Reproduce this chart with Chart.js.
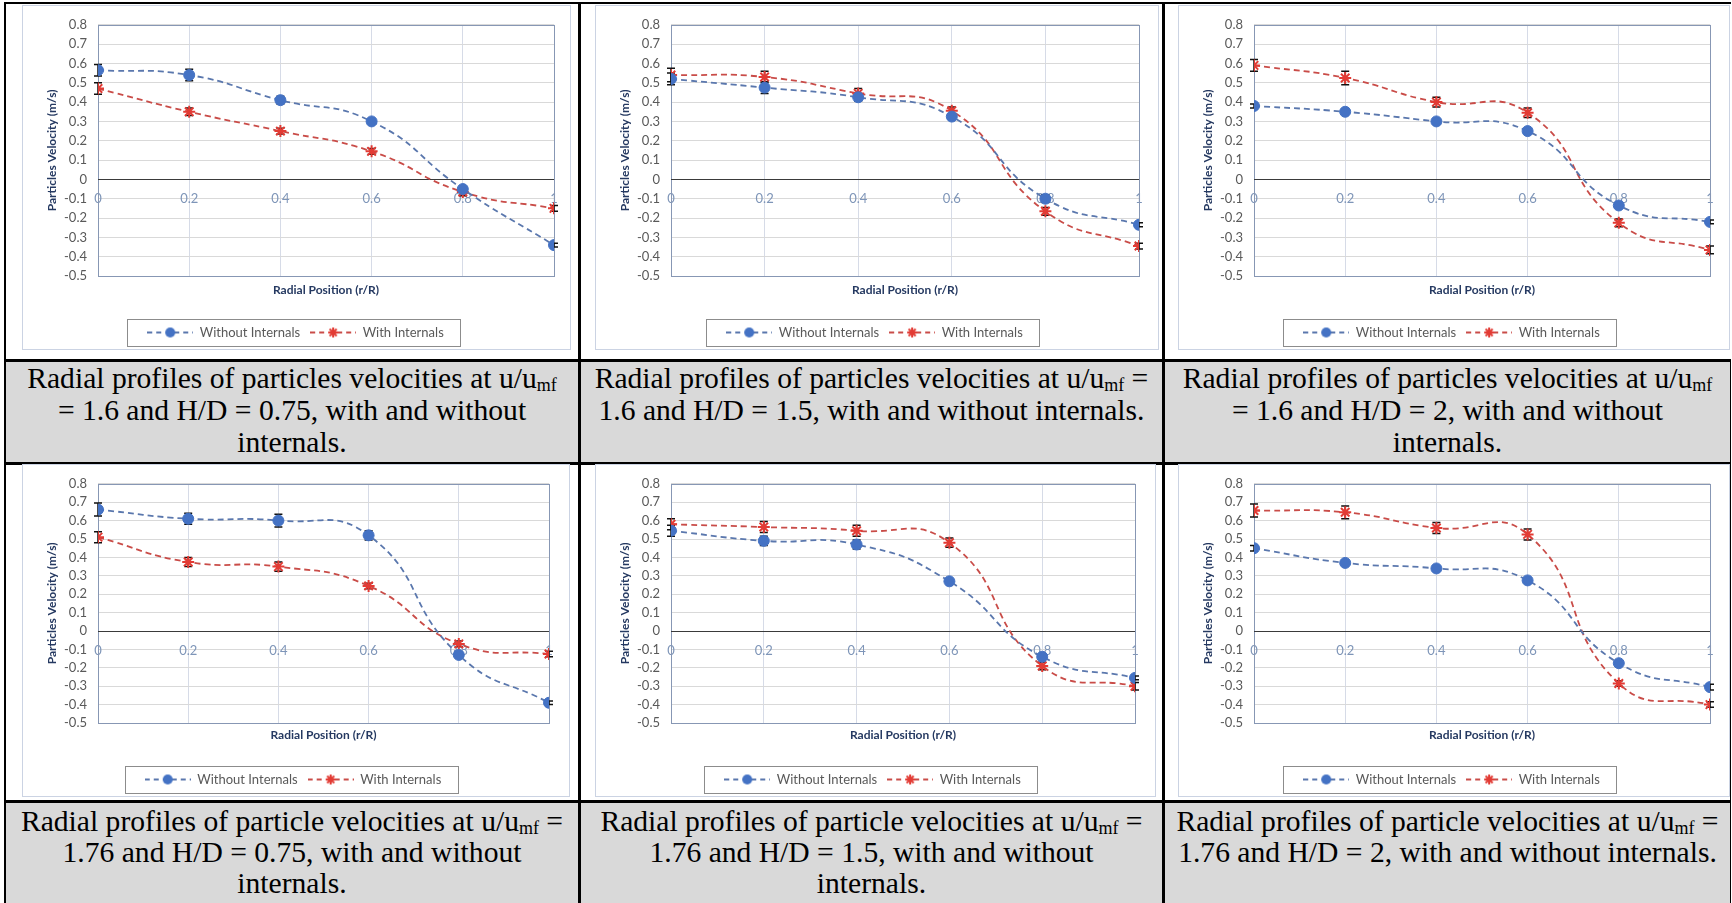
<!DOCTYPE html>
<html>
<head>
<meta charset="utf-8">
<script src="https://cdn.jsdelivr.net/npm/chart.js@4.4.1/dist/chart.umd.min.js"></script>
<style>
body{margin:0;background:#fff;width:1732px;height:903px;overflow:hidden;position:relative;font-family:'Liberation Serif','Times New Roman',serif}
.rule{position:absolute;background:#000}
.cap{position:absolute;background:#d9d9d9;text-align:center;font-size:29.6px;line-height:32px;color:#000;box-sizing:border-box}
.cap.low{line-height:31px;padding-top:3px}
.cap sub{font-size:18px;line-height:0;vertical-align:baseline;position:relative;top:3px}
.img{position:absolute;border:1px solid #cbd3e3;box-sizing:border-box;background:#fff}
.img canvas{position:absolute;left:0;top:0}
</style>
</head>
<body>
<div id="page"></div>
<script>
// ---- data ----
const radialPos = [0, 0.2, 0.4, 0.6, 0.8, 1];
const xTickLabels = ['0', '0.2', '0.4', '0.6', '0.8', '1'];
const seriesNames = ['Without Internals', 'With Internals'];
const yTitle = 'Particles Velocity (m/s)';
const xTitle = 'Radial Position (r/R)';

// u/umf = 1.6
const without_16_075 = [0.565, 0.54, 0.41, 0.30, -0.05, -0.34];
const with_16_075    = [0.47, 0.35, 0.25, 0.145, -0.065, -0.15];
const without_16_15  = [0.52, 0.475, 0.425, 0.325, -0.10, -0.235];
const with_16_15     = [0.54, 0.53, 0.445, 0.355, -0.165, -0.345];
const without_16_2   = [0.38, 0.35, 0.30, 0.25, -0.135, -0.22];
const with_16_2      = [0.59, 0.525, 0.40, 0.345, -0.225, -0.365];
// u/umf = 1.76
const without_176_075 = [0.66, 0.61, 0.60, 0.52, -0.13, -0.39];
const with_176_075    = [0.51, 0.375, 0.35, 0.245, -0.07, -0.125];
const without_176_15  = [0.545, 0.49, 0.47, 0.27, -0.14, -0.255];
const with_176_15     = [0.58, 0.565, 0.545, 0.48, -0.19, -0.30];
const without_176_2   = [0.45, 0.37, 0.34, 0.275, -0.175, -0.305];
const with_176_2      = [0.655, 0.645, 0.56, 0.525, -0.285, -0.40];

// error bars (+/-)
const errWithout_16_075 = [0.03, 0.03, 0.02, 0.01, 0.01, 0.01];
const errWith_16_075    = [0.03, 0.02, 0.015, 0.015, 0.02, 0.015];
const errWithout_16_15  = [0.03, 0.03, 0.02, 0.015, 0.02, 0.01];
const errWith_16_15     = [0.035, 0.03, 0.025, 0.02, 0.02, 0.015];
const errWithout_16_2   = [0.01, 0.01, 0.01, 0.01, 0.01, 0.01];
const errWith_16_2      = [0.03, 0.035, 0.025, 0.025, 0.02, 0.02];
const errWithout_176_075 = [0.035, 0.03, 0.035, 0.025, 0.015, 0.01];
const errWith_176_075    = [0.03, 0.025, 0.025, 0.015, 0.015, 0.015];
const errWithout_176_15  = [0.03, 0.025, 0.025, 0.01, 0.01, 0.01];
const errWith_176_15     = [0.03, 0.03, 0.03, 0.025, 0.02, 0.02];
const errWithout_176_2   = [0.015, 0.01, 0.01, 0.01, 0.01, 0.015];
const errWith_176_2      = [0.035, 0.035, 0.03, 0.03, 0.015, 0.015];

const captions = [
  ['Radial profiles of particles velocities at u/u<sub>mf</sub>', '= 1.6 and H/D = 0.75, with and without', 'internals.'],
  ['Radial profiles of particles velocities at u/u<sub>mf</sub> =', '1.6 and H/D = 1.5, with and without internals.'],
  ['Radial profiles of particles velocities at u/u<sub>mf</sub>', '= 1.6 and H/D = 2, with and without', 'internals.'],
  ['Radial profiles of particle velocities at u/u<sub>mf</sub> =', '1.76 and H/D = 0.75, with and without', 'internals.'],
  ['Radial profiles of particle velocities at u/u<sub>mf</sub> =', '1.76 and H/D = 1.5, with and without', 'internals.'],
  ['Radial profiles of particle velocities at u/u<sub>mf</sub> =', '1.76 and H/D = 2, with and without internals.']
];

const panels = [
  [without_16_075, with_16_075, errWithout_16_075, errWith_16_075],
  [without_16_15, with_16_15, errWithout_16_15, errWith_16_15],
  [without_16_2, with_16_2, errWithout_16_2, errWith_16_2],
  [without_176_075, with_176_075, errWithout_176_075, errWith_176_075],
  [without_176_15, with_176_15, errWithout_176_15, errWith_176_15],
  [without_176_2, with_176_2, errWithout_176_2, errWith_176_2]
];

// ---- page layout (table) ----
const boxes = [
  {left: 22, top: 5, w: 549, h: 345, padR: 16, titlePad: 19},
  {left: 595, top: 5, w: 564, h: 345, padR: 19, titlePad: 19},
  {left: 1178, top: 5, w: 552, h: 345, padR: 19, titlePad: 19},
  {left: 22, top: 464, w: 548, h: 333, padR: 20, titlePad: 21},
  {left: 595, top: 464, w: 561, h: 333, padR: 20, titlePad: 21},
  {left: 1178, top: 464, w: 552, h: 333, padR: 19, titlePad: 21}
];
const capCells = [
  {left: 6, top: 362, w: 572, h: 100}, {left: 581, top: 362, w: 581, h: 100}, {left: 1165, top: 362, w: 565, h: 100},
  {left: 6, top: 803, w: 572, h: 100, low: true}, {left: 581, top: 803, w: 581, h: 100, low: true}, {left: 1165, top: 803, w: 565, h: 100, low: true}
];
const rules = [
  [4, 2, 1727, 2], [4, 359, 1727, 3], [4, 462, 1727, 3], [4, 800, 1727, 3],
  [4, 2, 2, 901], [578, 2, 3, 901], [1162, 2, 3, 901], [1730, 359, 1, 544]
];

const page = document.getElementById('page');
capCells.forEach((c, i) => {
  const d = document.createElement('div');
  d.className = c.low ? 'cap low' : 'cap';
  d.style.cssText = `left:${c.left}px;top:${c.top}px;width:${c.w}px;height:${c.h}px`;
  d.innerHTML = captions[i].join('<br>');
  page.appendChild(d);
});
rules.forEach(r => {
  const d = document.createElement('div');
  d.className = 'rule';
  d.style.cssText = `left:${r[0]}px;top:${r[1]}px;width:${r[2]}px;height:${r[3]}px`;
  page.appendChild(d);
});

Chart.defaults.font.family = 'Lato';
Chart.defaults.color = '#595959';

const blue = '#4472c4';
const blueLine = '#5a77ad';
const red = '#e23b34';
const redLine = '#c94c48';

function legendSymbol(lineColor, style, color){
  const c = document.createElement('canvas');
  c.width = 46; c.height = 14;
  const g = c.getContext('2d');
  g.strokeStyle = lineColor; g.lineWidth = 1.8;
  g.setLineDash([5, 4]);
  g.beginPath(); g.moveTo(0, 7); g.lineTo(46, 7); g.stroke();
  g.setLineDash([]);
  if(style == 'circle'){
    g.fillStyle = color;
    g.beginPath(); g.arc(23, 7, 5, 0, Math.PI*2); g.fill();
  } else {
    g.strokeStyle = color; g.lineWidth = 2;
    g.beginPath();
    for(let k = 0; k < 4; k++){
      const a = k*Math.PI/4;
      g.moveTo(23 - 5*Math.cos(a), 7 - 5*Math.sin(a));
      g.lineTo(23 + 5*Math.cos(a), 7 + 5*Math.sin(a));
    }
    g.stroke();
  }
  return c;
}
const symbols = [legendSymbol(blueLine, 'circle', blue), legendSymbol(redLine, 'star', red)];

const errorBars = {
  id: 'errorBars',
  beforeDatasetsDraw(chart){
    const ctx = chart.ctx, ys = chart.scales.y;
    ctx.save();
    ctx.strokeStyle = '#111';
    ctx.lineWidth = 1.5;
    chart.data.datasets.forEach((ds, i) => {
      chart.getDatasetMeta(i).data.forEach((pt, j) => {
        const v = ds.data[j].y, e = ds.errors[j];
        const t = ys.getPixelForValue(v + e), b = ys.getPixelForValue(v - e);
        ctx.beginPath();
        ctx.moveTo(pt.x, t); ctx.lineTo(pt.x, b);
        ctx.moveTo(pt.x - 4, t); ctx.lineTo(pt.x + 4, t);
        ctx.moveTo(pt.x - 4, b); ctx.lineTo(pt.x + 4, b);
        ctx.stroke();
      });
    });
    ctx.restore();
  }
};

const plotFrame = {
  id: 'plotFrame',
  beforeDatasetsDraw(chart){
    const a = chart.chartArea, ctx = chart.ctx;
    ctx.save();
    ctx.strokeStyle = '#8797b4';
    ctx.lineWidth = 1;
    ctx.strokeRect(Math.round(a.left) + 0.5, Math.round(a.top) + 0.5, Math.round(a.right - a.left), Math.round(a.bottom - a.top));
    // zero line
    const y0 = Math.round(chart.scales.y.getPixelForValue(0)) + 0.5;
    ctx.strokeStyle = '#3a3a3a';
    ctx.beginPath(); ctx.moveTo(a.left, y0); ctx.lineTo(a.right, y0); ctx.stroke();
    ctx.restore();
  }
};

const legendFrame = {
  id: 'legendFrame',
  afterDraw(chart){
    const hb = chart.legend.legendHitBoxes;
    if(!hb || !hb.length) return;
    const l = Math.min(...hb.map(h => h.left)) - 20;
    const r = Math.max(...hb.map(h => h.left + h.width)) + 16;
    const cy = hb[0].top + hb[0].height/2;
    const ctx = chart.ctx;
    ctx.save();
    ctx.strokeStyle = '#8c8c8c';
    ctx.lineWidth = 1;
    ctx.strokeRect(Math.round(l) + 0.5, Math.round(cy - 13.5) + 0.5, Math.round(r - l), 27);
    ctx.restore();
  }
};

function creerChart(i){
  const bx = boxes[i];
  const [vWithout, vWith, eWithout, eWith] = panels[i];
  const holder = document.createElement('div');
  holder.className = 'img';
  holder.style.cssText = `left:${bx.left}px;top:${bx.top}px;width:${bx.w}px;height:${bx.h}px`;
  const canv = document.createElement('canvas');
  canv.width = bx.w - 2; canv.height = bx.h - 2;
  canv.style.width = (bx.w - 2) + 'px'; canv.style.height = (bx.h - 2) + 'px';
  holder.appendChild(canv);
  page.appendChild(holder);

  return new Chart(canv, {
    type: 'line',
    data: {
      datasets: [{
        label: seriesNames[0],
        data: radialPos.map((x, k) => ({x: x, y: vWithout[k]})),
        errors: eWithout,
        borderColor: blueLine,
        borderWidth: 1.8,
        borderDash: [6, 4],
        tension: 0.5,
        pointStyle: 'circle',
        pointRadius: 5.5,
        pointBackgroundColor: blue,
        pointBorderColor: blue,
        pointBorderWidth: 1
      }, {
        label: seriesNames[1],
        data: radialPos.map((x, k) => ({x: x, y: vWith[k]})),
        errors: eWith,
        borderColor: redLine,
        borderWidth: 1.8,
        borderDash: [6, 4],
        tension: 0.5,
        pointStyle: 'star',
        pointRadius: 6,
        pointBackgroundColor: red,
        pointBorderColor: red,
        pointBorderWidth: 2
      }]
    },
    options: {
      responsive: false,
      animation: false,
      events: [],
      layout: {padding: {left: 14, right: bx.padR, top: 17, bottom: 0}},
      scales: {
        x: {
          type: 'linear', position: {y: 0}, min: 0, max: 1,
          grid: {display: false, drawTicks: false},
          border: {display: false},
          ticks: {stepSize: 0.2, autoSkip: false, color: '#7e95b8', font: {size: 13}, padding: 12, maxRotation: 0,
                  callback: (v, idx) => xTickLabels[idx]}
        },
        xGrid: {
          type: 'linear', position: 'bottom', min: 0, max: 1,
          grid: {color: '#d6dbe7', drawTicks: false},
          border: {display: false},
          ticks: {display: false, stepSize: 0.2},
          title: {display: true, text: xTitle, color: '#253961', font: {size: 12, weight: 'bold'}, padding: {top: 0, bottom: bx.titlePad}},
          afterFit: s => { s.height = 40; }
        },
        y: {
          type: 'linear', position: 'left', min: -0.5, max: 0.8,
          grid: {color: '#d9d9d9', drawTicks: false},
          border: {display: false},
          ticks: {stepSize: 0.1, autoSkip: false, color: '#595959', font: {size: 13}, padding: 11},
          title: {display: true, text: yTitle, color: '#253961', font: {size: 12, weight: 'bold'}, padding: {top: 8, bottom: 0}},
          afterFit: s => { s.width = 61; }
        }
      },
      plugins: {
        tooltip: {enabled: false},
        legend: {
          position: 'bottom',
          labels: {
            usePointStyle: true,
            pointStyleWidth: 46,
            padding: 10,
            color: '#595959',
            font: {size: 13},
            generateLabels: chart => Chart.defaults.plugins.legend.labels.generateLabels(chart).map((it, k) => {
              it.pointStyle = symbols[k];
              return it;
            })
          }
        }
      }
    },
    plugins: [plotFrame, errorBars, legendFrame]
  });
}

for(let i = 0; i < panels.length; i++) creerChart(i);
</script>
</body>
</html>
